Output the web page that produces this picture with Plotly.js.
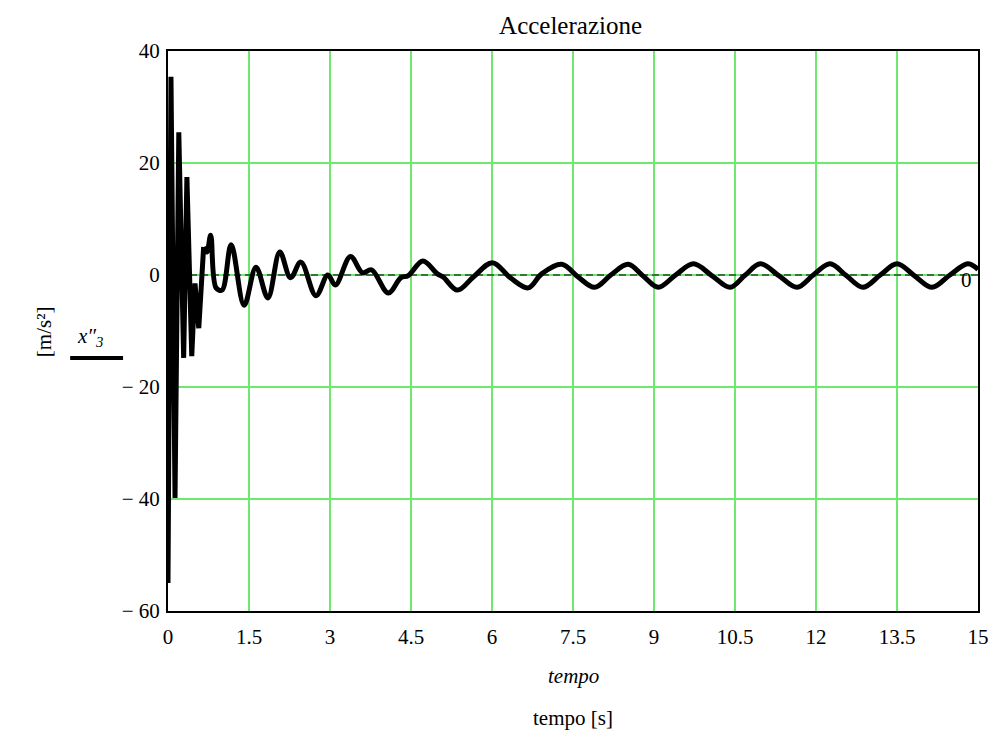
<!DOCTYPE html>
<html>
<head>
<meta charset="utf-8">
<script src="https://cdn.plot.ly/plotly-3.0.1.min.js"></script>
<style>html,body{margin:0;padding:0;background:#fff;}#chart{width:1001px;height:741px;}</style>
</head>
<body>
<div id="chart"></div>
<script>
// Early transient (sharp spikes)
const tEarly = [0, 0.055, 0.13, 0.2, 0.29, 0.35, 0.44, 0.5, 0.57, 0.66];
const aEarly = [-55, 35.4, -39.8, 25.5, -14.8, 17.5, -14.5, -1.5, -9.5, 5.0];
// Later smooth oscillation
const tLate = [0.66, 0.72, 0.79, 0.89, 1.0, 1.17, 1.41, 1.63, 1.85, 2.07, 2.27, 2.46, 2.74, 2.96, 3.1,
  3.38, 3.6, 3.77, 4.08, 4.31, 4.45, 4.72, 4.99, 5.1, 5.36, 5.66, 6.01, 6.34, 6.67, 6.92, 7.29, 7.6, 7.9,
  8.2, 8.52, 8.8, 9.08, 9.4, 9.73, 10.07, 10.41, 10.69, 10.97, 11.31, 11.65, 11.95, 12.26, 12.56, 12.87,
  13.19, 13.5, 13.82, 14.15, 14.48, 14.81, 15.0];
const aLate = [5.0, 4.1, 7.1, -2.3, -2.7, 5.4, -5.4, 1.4, -4.1, 4.1, -0.5, 2.3, -3.7, 0.0, -1.8,
  3.3, 0.4, 0.9, -3.2, -0.5, -0.1, 2.5, 0.2, -0.4, -2.7, -0.3, 2.2, -0.5, -2.3, 0.2, 1.9, -0.4, -2.2,
  0.0, 1.9, -0.2, -2.2, 0.0, 2.0, -0.1, -2.2, 0.0, 2.0, -0.1, -2.2, 0.0, 2.0, -0.1, -2.2,
  0.0, 2.0, -0.1, -2.2, 0.0, 2.0, 1.0];
const xTickVals = [0, 1.5, 3, 4.5, 6, 7.5, 9, 10.5, 12, 13.5, 15];
const xTickText = ['0', '1.5', '3', '4.5', '6', '7.5', '9', '10.5', '12', '13.5', '15'];
const yTickVals = [-60, -40, -20, 0, 20, 40];
const yTickText = ['\u2212 60', '\u2212 40', '\u2212 20', '0', '20', '40'];

const serif = 'Liberation Serif, Times New Roman, serif';
const lineStyle = {color: '#000', width: 5};

const traces = [
  {x: tEarly, y: aEarly, type: 'scatter', mode: 'lines', line: Object.assign({shape: 'linear'}, lineStyle), showlegend: false, hoverinfo: 'skip'},
  {x: tLate, y: aLate, type: 'scatter', mode: 'lines', line: Object.assign({shape: 'spline', smoothing: 1}, lineStyle), showlegend: false, hoverinfo: 'skip'}
];

const gridColor = '#6ee86e';
const layout = {
  width: 1001, height: 741,
  margin: {l: 168, r: 23, t: 51, b: 130},
  paper_bgcolor: '#fff', plot_bgcolor: '#fff',
  font: {family: serif, size: 21, color: '#000'},
  showlegend: false,
  title: {text: 'Accelerazione', font: {family: serif, size: 25, color: '#000'},
          xref: 'paper', x: 0.497, xanchor: 'center', yref: 'container', y: 0.966, yanchor: 'middle'},
  xaxis: {
    range: [0, 15], tickvals: xTickVals, ticktext: xTickText,
    showgrid: true, gridcolor: gridColor, gridwidth: 2,
    zeroline: false, showline: true, linecolor: '#000', linewidth: 2, mirror: true,
    ticks: '', tickfont: {family: serif, size: 21}, ticklabelstandoff: 6
  },
  yaxis: {
    range: [-60, 40], tickvals: yTickVals, ticktext: yTickText,
    showgrid: true, gridcolor: gridColor, gridwidth: 2,
    zeroline: false, showline: true, linecolor: '#000', linewidth: 2, mirror: true,
    ticks: '', tickfont: {family: serif, size: 21}, ticklabelstandoff: 2
  },
  shapes: [
    {type: 'line', xref: 'x', yref: 'y', x0: 0, x1: 15, y0: 0, y1: 0, layer: 'between',
     line: {color: '#000', width: 1, dash: '7px,4px'}},
    {type: 'line', xref: 'paper', yref: 'paper', x0: -0.1208, x1: -0.0555, y0: 0.452, y1: 0.452,
     line: {color: '#000', width: 4}}
  ],
  annotations: [
    {xref: 'paper', yref: 'paper', x: 0.5, y: -0.116, xanchor: 'center', yanchor: 'middle', showarrow: false,
     text: '<i>tempo</i>', font: {family: serif, size: 21}},
    {xref: 'paper', yref: 'paper', x: 0.5, y: -0.191, xanchor: 'center', yanchor: 'middle', showarrow: false,
     text: 'tempo [s]', font: {family: serif, size: 21}},
    {xref: 'paper', yref: 'paper', x: -0.153, y: 0.498, xanchor: 'center', yanchor: 'middle', showarrow: false,
     textangle: -90, text: '[m/s\u00b2]', font: {family: serif, size: 21}},
    {xref: 'paper', yref: 'paper', x: -0.096, y: 0.489, xanchor: 'center', yanchor: 'middle', showarrow: false,
     text: '<i>x\u2033<sub>3</sub></i>', font: {family: serif, size: 21}},
    {xref: 'x', yref: 'y', x: 14.78, y: 0, xanchor: 'center', yanchor: 'middle', yshift: -5, showarrow: false,
     text: '0', font: {family: serif, size: 21}}
  ]
};

Plotly.newPlot('chart', traces, layout, {displayModeBar: false, staticPlot: true});
</script>
</body>
</html>
